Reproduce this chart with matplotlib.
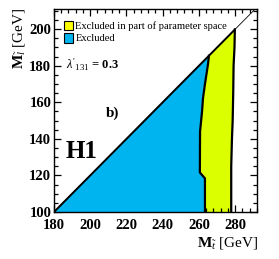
import matplotlib
matplotlib.use("Agg")
import matplotlib.pyplot as plt
from matplotlib.patches import Polygon, Rectangle
from matplotlib.ticker import MultipleLocator

plt.rcParams['font.family'] = ['Liberation Serif', 'DejaVu Serif']
plt.rcParams['mathtext.fontset'] = 'custom'
plt.rcParams['mathtext.rm'] = 'Liberation Serif'
plt.rcParams['mathtext.it'] = 'Liberation Serif:italic'
plt.rcParams['mathtext.bf'] = 'Liberation Serif:bold'

# Data
# Excluded region boundary (right edge), from diagonal down to bottom
excl_bx = [265.5, 265.0, 264.4, 263.3, 262.2, 261.7, 260.6, 260.5, 263.3, 263.3]
excl_by = [185.5, 181.0, 177.0, 170.0, 162.0, 155.0, 144.0, 121.6, 118.4, 100.0]
# Excluded-in-part region boundary (right edge), from diagonal down to bottom
part_bx = [279.8, 279.6, 279.1, 278.9, 278.6, 278.2, 277.8, 277.8]
part_by = [199.8, 190.0, 180.0, 165.0, 150.0, 140.0, 125.0, 100.0]
x_ticks = [180, 200, 220, 240, 260, 280]
y_ticks = [100, 120, 140, 160, 180, 200]
xlim = (180, 292)
ylim = (100, 211)

blue = '#00b4f0'
yellow_fill = '#dcff00'
yellow_leg = '#ffff00'

fig = plt.figure(figsize=(2.79, 2.59), dpi=100)
ax = fig.add_axes([0.1935, 0.1815, 0.7275, 0.7835])
ax.set_xlim(*xlim)
ax.set_ylim(*ylim)

# yellow polygon: from excluded boundary to part boundary
ypoly = [(excl_bx[0], excl_by[0])] + [(part_bx[0], part_by[0])] + \
    list(zip(part_bx, part_by))[1:] + list(zip(excl_bx[::-1], excl_by[::-1]))
ax.add_patch(Polygon(ypoly, closed=True, facecolor=yellow_fill, edgecolor='none', zorder=1))
bpoly = [(180, 100)] + list(zip(excl_bx, excl_by))
ax.add_patch(Polygon(bpoly, closed=True, facecolor=blue, edgecolor='none', zorder=2))

# diagonal
ax.plot([180, 180 + (ylim[1] - 100)], [100, ylim[1]], color='black', lw=0.6, zorder=3)
ax.plot([180, part_bx[0]], [100, part_by[0]], color='black', lw=1.4, zorder=3)
# boundaries
ax.plot(excl_bx, excl_by, color='black', lw=1.6, zorder=4)
ax.plot(part_bx, part_by, color='black', lw=1.6, zorder=4)

ax.set_xticks(x_ticks)
ax.set_yticks(y_ticks)
ax.xaxis.set_minor_locator(MultipleLocator(4))
ax.yaxis.set_minor_locator(MultipleLocator(5))
ax.tick_params(which='both', direction='in', top=True, right=True, width=0.9)
ax.tick_params(which='major', length=5, labelsize=10.5)
ax.tick_params(axis='x', which='major', pad=5)
ax.tick_params(axis='y', which='major', pad=2)
ax.tick_params(which='minor', length=3)
for lab in ax.get_xticklabels() + ax.get_yticklabels():
    lab.set_fontweight('bold')
for s in ax.spines.values():
    s.set_linewidth(1.0)

fig.text(0.925, 0.03, r'$\mathbf{M}_{\tilde{t}}$ [GeV]', ha='right', va='bottom', fontsize=11)
fig.text(0.04, 0.97, r'$\mathbf{M}_{\tilde{l}}$ [GeV]', ha='left', va='top', fontsize=11, rotation=90)

# legend
ax.add_patch(Rectangle((0.05, 0.895), 0.045, 0.045, transform=ax.transAxes,
                       facecolor=yellow_leg, edgecolor='black', lw=0.8, zorder=5))
ax.add_patch(Rectangle((0.05, 0.835), 0.045, 0.045, transform=ax.transAxes,
                       facecolor=blue, edgecolor='black', lw=0.8, zorder=5))
ax.text(0.105, 0.917, 'Excluded in part of parameter space', transform=ax.transAxes,
        fontsize=7.6, va='center', ha='left')
ax.text(0.105, 0.857, 'Excluded', transform=ax.transAxes, fontsize=7.6, va='center', ha='left')

ax.text(186.5, 180.5, r"$\lambda'_{131}$ = 0.3", fontsize=9, va='center', ha='left',
        fontweight='bold')
ax.text(212.5, 154, 'b)', fontsize=11, va='center', ha='center', fontweight='bold')
ax.text(195, 133, 'H1', fontsize=18, va='center', ha='center', fontweight='bold')

fig.savefig('out.png', dpi=100)
